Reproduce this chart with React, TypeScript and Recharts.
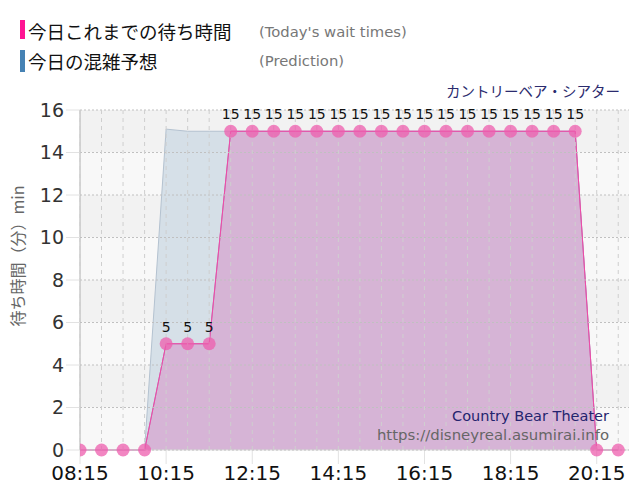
import {
  ComposedChart,
  Area,
  Line,
  XAxis,
  YAxis,
  CartesianGrid,
  ReferenceArea,
  ReferenceLine,
  LabelList,
} from "recharts";

const times = [
  "08:15", "08:45", "09:15", "09:45", "10:15", "10:45", "11:15", "11:45",
  "12:15", "12:45", "13:15", "13:45", "14:15", "14:45", "15:15", "15:45",
  "16:15", "16:45", "17:15", "17:45", "18:15", "18:45", "19:15", "19:45",
  "20:15", "20:45",
];
const waitTimes = [
  0, 0, 0, 0, 5, 5, 5, 15,
  15, 15, 15, 15, 15, 15, 15, 15,
  15, 15, 15, 15, 15, 15, 15, 15,
  0, 0,
];
const prediction = [
  0, 0, 0, 0, 15.1, 15, 15, 15,
  15, 15, 15, 15, 15, 15, 15, 15,
  15, 15, 15, 15, 15, 15, 15, 15,
  0, 0,
];
const xTicks = ["08:15", "10:15", "12:15", "14:15", "16:15", "18:15", "20:15"];
const yTicks = [0, 2, 4, 6, 8, 10, 12, 14, 16];
const darkBands = [
  [14, 16],
  [10, 12],
  [6, 8],
  [2, 4],
];
const lightBands = [
  [12, 14],
  [8, 10],
  [4, 6],
  [0, 2],
];
const axisStart = "08:15";
const axisEnd = "21:00";

const toMin = (t: string) => {
  const [h, m] = t.split(":");
  return parseInt(h) * 60 + parseInt(m);
};
const fmt = (v: number) =>
  `${String(Math.floor(v / 60)).padStart(2, "0")}:${String(v % 60).padStart(2, "0")}`;

const data = times.map((t, i) => ({
  t: toMin(t),
  wait: waitTimes[i],
  pred: prediction[i],
}));

const jp = '"Noto Sans CJK JP", sans-serif';
const num = '"DejaVu Sans", sans-serif';

export default function App() {
  return (
    <div style={{ position: "absolute", left: 0, top: 0, width: 640, height: 500, background: "#fff" }}>
      {/* legend */}
      <div style={{ position: "absolute", left: 20, top: 20, width: 5, height: 19, background: "#ff1493" }} />
      <div style={{ position: "absolute", left: 28, top: 19, fontFamily: jp, fontSize: 18.5, lineHeight: "24px", color: "#111" }}>
        今日これまでの待ち時間
      </div>
      <div style={{ position: "absolute", left: 259, top: 22, fontFamily: num, fontSize: 14.8, lineHeight: "20px", color: "#777" }}>
        (Today's wait times)
      </div>
      <div style={{ position: "absolute", left: 20, top: 50, width: 5, height: 22, background: "#4682b4" }} />
      <div style={{ position: "absolute", left: 28, top: 49, fontFamily: jp, fontSize: 18.5, lineHeight: "24px", color: "#111" }}>
        今日の混雑予想
      </div>
      <div style={{ position: "absolute", left: 259, top: 51, fontFamily: num, fontSize: 14.8, lineHeight: "20px", color: "#777" }}>
        (Prediction)
      </div>
      <div style={{ position: "absolute", right: 20, top: 80, fontFamily: jp, fontSize: 14.5, lineHeight: "22px", color: "#2b2b6e" }}>
        カントリーベア・シアター
      </div>

      <ComposedChart
        width={640}
        height={500}
        data={data}
        margin={{ top: 110, right: 11, bottom: 0, left: 0 }}
      >
        {darkBands.map(([a, b]) => (
          <ReferenceArea key={`d${a}`} y1={a} y2={b} fill="#f2f2f2" fillOpacity={1} stroke="none" />
        ))}
        {lightBands.map(([a, b]) => (
          <ReferenceArea key={`l${a}`} y1={a} y2={b} fill="#f8f8f8" fillOpacity={1} stroke="none" />
        ))}
        <XAxis
          dataKey="t"
          type="number"
          domain={[toMin(axisStart), toMin(axisEnd)]}
          ticks={xTicks.map(toMin)}
          tickFormatter={fmt}
          height={50}
          tickSize={14}
          tickMargin={2}
          axisLine={{ stroke: "#dddddd" }}
          tickLine={{ stroke: "#e2e2e2" }}
          tick={{ fontSize: 20, fill: "#111", fontFamily: num }}
          allowDataOverflow
        />
        <YAxis
          domain={[0, 16]}
          ticks={yTicks}
          width={80}
          tickSize={14}
          tickMargin={2}
          axisLine={{ stroke: "#b0b0b0" }}
          tickLine={{ stroke: "#e2e2e2" }}
          tick={{ fontSize: 19, fill: "#333", fontFamily: num }}
        />
        <Area
          dataKey="pred"
          type="linear"
          fill="#d3dde6"
          fillOpacity={0.92}
          stroke="#b4c2d0"
          strokeWidth={1}
          isAnimationActive={false}
        />
        <Area
          dataKey="wait"
          type="linear"
          fill="#d6b0d4"
          fillOpacity={0.92}
          stroke="#b07ab8"
          strokeWidth={1}
          isAnimationActive={false}
        />
        <CartesianGrid vertical={false} stroke="#c0c0c0" strokeDasharray="2 2" zIndex={500} />
        {times.map((t) => (
          <ReferenceLine key={t} x={toMin(t)} stroke="#cfcfcf" strokeDasharray="4 4" zIndex={500} />
        ))}
        <Line
          dataKey="wait"
          type="linear"
          stroke="#f04aa6"
          strokeWidth={1}
          dot={{ r: 6.5, fill: "#ee5dad", fillOpacity: 0.75, stroke: "none" }}
          isAnimationActive={false}
        >
          <LabelList
            dataKey="wait"
            position="top"
            offset={12}
            formatter={(v: number) => (v === 0 ? "" : v)}
            style={{ fontSize: 14, fill: "#111", fontFamily: num }}
          />
        </Line>
      </ComposedChart>

      <div
        style={{
          position: "absolute",
          left: 17,
          top: 256,
          transform: "translate(-50%, -50%) rotate(-90deg)",
          whiteSpace: "nowrap",
          fontFamily: jp,
          fontSize: 16,
          color: "#666",
        }}
      >
        待ち時間（分）min
      </div>
      <div style={{ position: "absolute", right: 31, top: 407, fontFamily: num, fontSize: 14.5, lineHeight: "18px", color: "#24246e" }}>
        Country Bear Theater
      </div>
      <div style={{ position: "absolute", right: 31, top: 426, fontFamily: num, fontSize: 14.9, lineHeight: "18px", color: "#666" }}>
        https://disneyreal.asumirai.info
      </div>
    </div>
  );
}
